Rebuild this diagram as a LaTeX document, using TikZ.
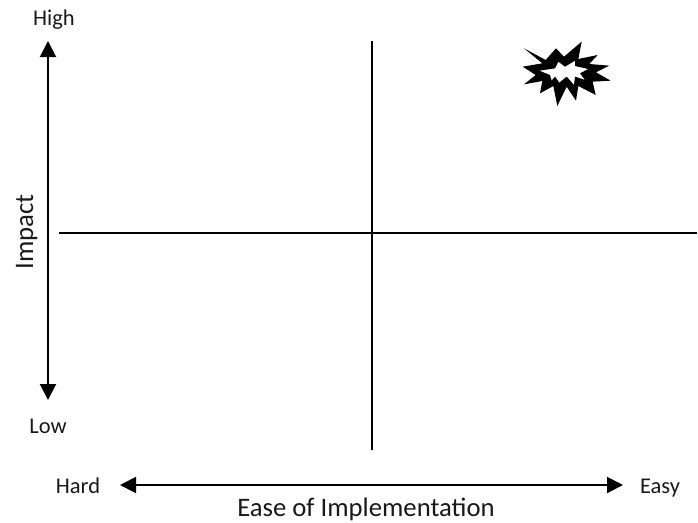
\documentclass[tikz,border=0pt]{standalone}
\usepackage{fontspec}
\setmainfont{Carlito}
\usetikzlibrary{arrows.meta}
\tikzset{
  axis/.style={line width=2pt,{Triangle[length=16pt,width=16pt]}-{Triangle[length=16pt,width=16pt]}},
  grid line/.style={line width=1.5pt},
  small label/.style={font=\fontsize{22.5}{26}\selectfont,inner sep=0pt,text=black!90},
  big label/.style={font=\fontsize{26.7}{31}\selectfont,inner sep=0pt,text=black!90}
}
\begin{document}
\begin{tikzpicture}[x=1pt,y=-1pt]
        \useasboundingbox (0,0) rectangle (698,522);
        % quadrant lines
        \coordinate (top) at (372,41);
        \coordinate (bottom) at (372,450);
        \coordinate (left) at (59,233);
        \coordinate (right) at (697,233);
        \draw[grid line] (top)--(bottom);
        \draw[grid line] (left)--(right);
        % labels
        \node[small label,anchor=base] (high) at (54,25) {High};
        \node[small label,anchor=base] (low) at (48,433) {Low};
        \node[small label,anchor=base] (hard) at (78,493) {Hard};
        \node[small label,anchor=base] (easy) at (660,493) {Easy};
        \node[big label,rotate=90,anchor=base] (impact) at (33,232) {Impact};
        \node[big label,anchor=base] (ease) at (366,516) {Ease of Implementation};
        % axes
        \coordinate (up) at (48,41);
        \coordinate (down) at (48,400);
        \coordinate (west) at (120,485);
        \coordinate (east) at (623,485);
        \draw[axis] (up)--(down);
        \draw[axis] (west)--(east);
        % burst
        \begin{scope}[shift={(500,30)},x=0.3333pt,y=-0.3333pt]
          \fill[black,even odd rule]
            (72,55)--(137,90)--(168,55)--(192,80)--(245,35)--(235,87)--(293,75)--(268,102)--(328,107)--(288,127)--(332,152)--(278,155)--(287,195)--(235,168)--(228,212)--(200,170)--(172,228)--(160,168)--(120,190)--(127,153)--(72,163)--(107,135)--(68,110)--(127,100)--cycle
            (118,122)--(165,115)--(175,95)--(195,110)--(225,92)--(225,108)--(265,117)--(240,130)--(255,150)--(225,140)--(222,165)--(200,140)--(178,158)--(165,140)--(155,152)--(150,135)--cycle;
        \end{scope}
      \end{tikzpicture}
\end{document}
